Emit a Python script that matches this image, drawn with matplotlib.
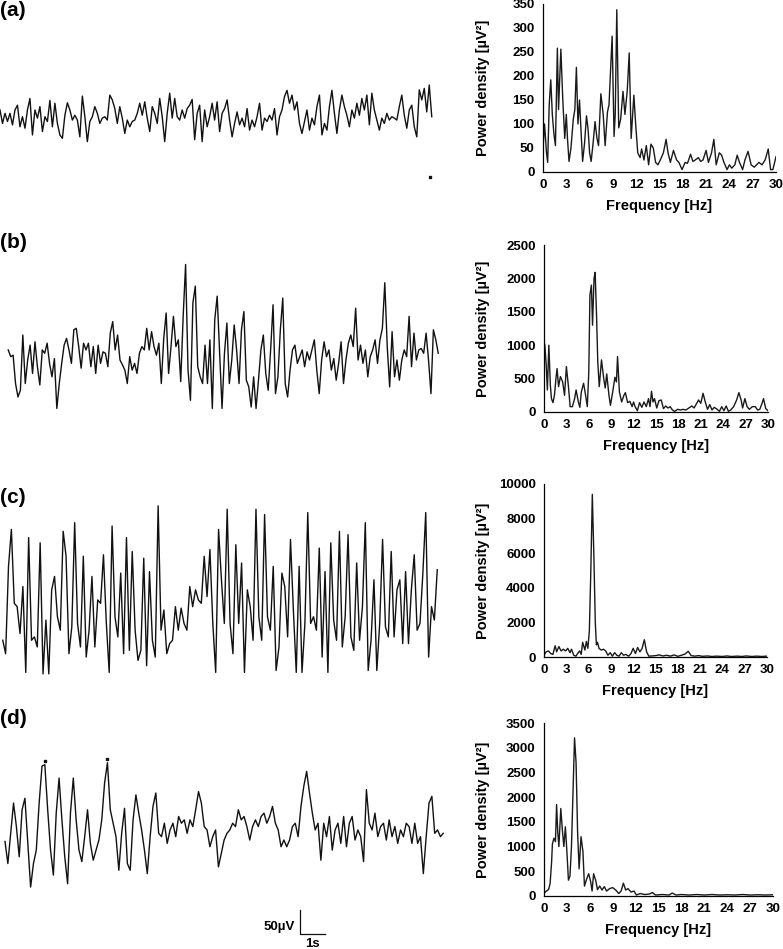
import numpy as np
import matplotlib
matplotlib.use("Agg")
import matplotlib.pyplot as plt

# EEG traces, µV, evenly sampled along each recording
trace_a = [14, -14, 7, -10, 7, -17, 14, 24, -21, 0,
           -24, 14, 38, -38, 14, -3, 21, -31, 0, -10,
           34, -21, 28, -14, -38, -45, 3, 29, 14, -7,
           3, -7, -42, 43, 0, -52, -10, 0, 21, 7,
           -14, -3, 0, -7, 45, 35, 17, -14, 21, -3,
           -35, -7, -21, -10, -7, 7, 28, 3, 31, -3,
           -31, 21, 7, -14, 38, 0, -52, 7, 49, -3,
           38, 0, -7, 14, -3, 17, 24, 36, -48, 7,
           24, -52, 14, -21, 0, 28, -7, 31, -31, 7,
           17, 35, -7, -42, -14, 10, -17, -3, -21, 17,
           -28, -7, -21, 0, 28, -28, -3, -10, 3, -7,
           17, -38, 0, 14, 42, 55, 28, 45, 14, 31,
           -14, -35, -10, 14, -28, -3, -17, 21, 45, -38,
           -14, -28, 21, 55, 7, -35, 14, 45, 21, 3,
           -21, 14, -3, 28, 3, 38, 14, 45, -17, 49,
           14, -7, -28, -3, -14, 7, -7, 0, -3, -7,
           21, 45, 3, -24, 14, 24, -21, -42, 56, 35,
           59, 10, 66, 0]

trace_b = [21, 7, 10, -49, -77, -63, 52, -49, 0, 31,
           -28, 38, -14, -52, 21, 14, 35, -7, -35, 3,
           -101, -49, -7, 31, 45, 21, -7, 63, 66, 28,
           -17, 35, 21, 35, -14, 28, -28, 31, -7, 17,
           14, -14, 56, 80, 21, 52, 0, -10, -21, -49,
           7, -21, -7, -28, 14, 28, 21, 66, 21, 59,
           28, 10, 35, -49, 45, 98, -28, 28, 91, 28,
           42, -45, 91, 199, -21, -84, 119, 154, -14, -35,
           -49, 31, -49, 42, -101, 84, 133, 14, -101, 14,
           77, -49, 0, 73, 21, -49, 63, 101, -42, -56,
           -98, -35, -101, -42, 21, 52, -28, -63, 21, 115,
           -70, -35, 63, 129, -49, -77, -21, 21, 31, -7,
           7, 21, -14, 17, 0, 21, 42, -21, -70, 0,
           38, 7, 21, -21, 3, -42, -7, 38, -49, 0,
           35, 52, 28, 108, 0, 31, -7, 21, -35, 7,
           21, 42, -7, 42, 66, 161, 28, -56, 59, -35,
           0, -42, 0, 21, 7, 91, -14, 56, 0, 21,
           24, 14, 56, 0, -70, 63, 42, 14]

trace_c = [-77, -105, 77, 154, 0, -7, -63, 35, -144, 137,
           -77, -70, -91, 126, -147, -35, -147, 28, 56, -28,
           -56, 150, 98, -105, -49, 168, -42, -91, 98, -112,
           -56, 56, -91, 7, 0, 101, -42, -144, 161, -28,
           -70, 63, -105, 137, -98, 108, -56, -119, -98, 94,
           -130, 66, -77, -112, 203, -56, -14, -105, -84, -77,
           -7, -56, -10, -42, -56, 35, -7, 28, 7, 0,
           98, 14, 112, -42, -144, 154, 49, -42, 196, -42,
           -105, 122, -42, 84, -144, 28, -7, -77, 196, -28,
           -77, 185, -28, -56, 77, -140, -91, 63, 35, -70,
           133, -14, -144, 77, -144, -42, 189, -42, -28, -56,
           115, -112, 66, -144, 126, -35, -77, 150, -91, -28,
           143, -70, -98, 84, -77, -7, 168, -140, -77, 49,
           -140, -42, 133, -49, -70, 108, -70, 28, 49, -84,
           66, -84, 28, 101, -56, -42, 63, 189, -112, -7,
           -35, 70]

trace_d = [-17, -63, 0, 63, 14, -49, 49, 73, -21, -112,
           -63, -35, 63, 140, 143, 49, -35, -87, 42, 115,
           28, -49, -105, 42, 115, 28, -35, -59, -7, 49,
           -21, -56, -35, -14, 28, 105, 147, 49, 21, -7,
           -77, 0, 52, -63, -77, 28, 80, 42, 7, -35,
           -84, -7, 56, 84, 0, -7, 21, -21, 7, 21,
           -7, 35, 21, 28, 0, 28, 14, 49, 87, 63,
           14, 7, -28, -7, 7, -70, -42, -14, 0, 7,
           21, 14, 49, 28, 35, 14, -14, 14, 28, 14,
           35, 42, 21, 35, 56, 21, 7, -28, -14, -28,
           -14, 14, 21, -7, 56, 98, 129, 84, 42, 7,
           21, -56, 21, -7, 35, -35, 7, 21, -21, 35,
           -28, 21, 35, -14, 7, -7, -59, 91, 21, 7,
           42, -7, 14, 21, -14, 28, -7, 14, -21, 7,
           -7, 21, 14, -21, 21, -21, -7, -84, -7, 63,
           77, 0, 7, -7, 0]

# start / end time of each trace (s)
trace_start = [0.0, 0.33, 0.11, 0.2]
trace_end = [17.27, 17.53, 17.49, 17.73]

# stray dots in the scanned traces (t in s, µV)
dots_a_t, dots_a_v = [17.2], [-125]
dots_d_t, dots_d_v = [1.8, 4.3], [150, 154]

# power spectra
spec_a_hz = [0.0, 0.2, 0.45, 0.6, 0.8, 1.0, 1.2, 1.4, 1.6, 1.85,
             2.0, 2.3, 2.55, 2.8, 3.0, 3.15, 3.35, 3.6, 3.9, 4.1,
             4.3, 4.5, 4.7, 4.9, 5.1, 5.35, 5.6, 5.8, 6.0, 6.2,
             6.45, 6.7, 6.95, 7.15, 7.45, 7.75, 8.0, 8.3, 8.5, 8.75,
             8.9, 9.15, 9.3, 9.5, 9.75, 10.0, 10.3, 10.55, 10.85, 11.1,
             11.35, 11.7, 11.95, 12.2, 12.5, 12.7, 13.0, 13.3, 13.6, 13.9,
             14.2, 14.5, 14.8, 15.1, 15.5, 15.85, 16.1, 16.4, 16.8, 17.2,
             17.5, 17.9, 18.3, 18.6, 19.0, 19.3, 19.6, 20.0, 20.3, 20.6,
             21.0, 21.3, 21.7, 22.0, 22.3, 22.7, 23.0, 23.3, 23.7, 24.0,
             24.3, 24.7, 25.0, 25.3, 25.7, 26.0, 26.4, 26.8, 27.2, 27.5,
             27.8, 28.2, 28.6, 29.0, 29.3, 29.6, 30.0]
spec_a_pow = [50, 100, 40, 20, 140, 192, 120, 80, 55, 258,
              130, 256, 150, 70, 120, 70, 22, 50, 110, 130,
              218, 100, 150, 85, 22, 60, 117, 90, 40, 22,
              60, 105, 70, 55, 163, 120, 55, 125, 140, 230,
              283, 74, 120, 338, 92, 110, 168, 120, 170, 248,
              70, 160, 95, 40, 30, 48, 25, 55, 15, 58,
              50, 20, 15, 25, 40, 68, 40, 20, 45, 25,
              20, 5, 20, 18, 37, 22, 25, 30, 22, 25,
              45, 20, 40, 68, 15, 40, 35, 20, 5, 15,
              8, 15, 35, 20, 5, 25, 43, 15, 10, 15,
              20, 15, 25, 48, 5, 5, 32]

spec_b_hz = [0.0, 0.1, 0.3, 0.45, 0.65, 0.85, 1.0, 1.2, 1.4, 1.6,
             1.75, 1.95, 2.2, 2.5, 2.75, 3.0, 3.3, 3.5, 3.8, 4.1,
             4.3, 4.6, 4.8, 5.0, 5.3, 5.5, 5.8, 6.0, 6.15, 6.35,
             6.5, 6.7, 6.85, 7.05, 7.2, 7.4, 7.7, 8.0, 8.2, 8.4,
             8.7, 8.9, 9.2, 9.5, 9.7, 9.85, 10.1, 10.4, 10.7, 10.9,
             11.2, 11.5, 11.8, 12.0, 12.2, 12.5, 12.8, 13.1, 13.4, 13.7,
             14.0, 14.2, 14.4, 14.6, 14.8, 15.1, 15.4, 15.7, 16.0, 16.3,
             16.6, 16.9, 17.2, 17.5, 17.9, 18.3, 18.6, 19.0, 19.4, 19.8,
             20.1, 20.4, 20.7, 21.0, 21.3, 21.6, 21.9, 22.2, 22.5, 22.8,
             23.2, 23.5, 23.8, 24.1, 24.4, 24.7, 25.0, 25.4, 25.8, 26.1,
             26.4, 26.6, 26.9, 27.2, 27.5, 27.9, 28.3, 28.6, 28.9, 29.2,
             29.4, 29.7, 30.0]
spec_b_pow = [600, 1020, 700, 330, 1000, 400, 200, 140, 250, 500,
              650, 380, 530, 450, 250, 680, 350, 80, 80, 200,
              330, 150, 70, 300, 430, 300, 80, 600, 1750, 1900,
              1300, 2000, 2090, 1400, 750, 380, 780, 500, 360, 570,
              250, 100, 300, 520, 450, 830, 300, 150, 250, 290,
              140, 160, 80, 150, 80, 20, 140, 70, 150, 80,
              200, 80, 310, 150, 200, 60, 170, 180, 50, 90,
              60, 80, 30, 10, 40, 30, 40, 30, 60, 90,
              60, 120, 180, 130, 280, 150, 40, 110, 30, 70,
              40, 10, 80, 20, 90, 10, 30, 80, 180, 290,
              180, 60, 200, 80, 40, 80, 80, 30, 40, 130,
              200, 50, 20]

spec_c_hz = [0.0, 0.3, 0.6, 0.9, 1.2, 1.5, 1.7, 2.0, 2.3, 2.6,
             2.9, 3.2, 3.5, 3.7, 4.0, 4.3, 4.6, 4.8, 5.0, 5.2,
             5.5, 5.7, 5.9, 6.1, 6.3, 6.5, 6.7, 6.9, 7.05, 7.2,
             7.4, 7.7, 8.0, 8.3, 8.6, 8.9, 9.2, 9.5, 9.8, 10.1,
             10.4, 10.7, 11.0, 11.4, 11.7, 12.0, 12.3, 12.6, 12.9, 13.2,
             13.5, 13.8, 14.1, 14.5, 15.0, 15.5, 16.0, 16.5, 17.0, 17.5,
             18.0, 18.5, 19.0, 19.4, 19.8, 20.3, 20.8, 21.3, 22.0, 22.6,
             23.2, 24.0, 24.6, 25.2, 26.0, 26.6, 27.2, 28.0, 28.6, 29.3,
             30.0]
spec_c_pow = [100, 300, 350, 200, 150, 650, 300, 600, 350, 450,
              350, 500, 250, 450, 100, 50, 250, 350, 150, 850,
              400, 900, 500, 1500, 5000, 9400, 6000, 2000, 700, 850,
              500, 400, 450, 350, 100, 250, 50, 250, 100, 50,
              250, 100, 150, 50, 200, 500, 200, 550, 300, 500,
              1000, 300, 50, 60, 80, 120, 60, 100, 50, 120,
              40, 100, 180, 330, 80, 50, 80, 40, 60, 30,
              50, 30, 60, 30, 50, 30, 60, 30, 50, 30,
              50]

spec_d_hz = [0.0, 0.3, 0.6, 0.8, 1.0, 1.1, 1.3, 1.5, 1.65, 1.8,
             1.95, 2.2, 2.4, 2.6, 2.8, 3.0, 3.2, 3.4, 3.6, 3.8,
             4.0, 4.2, 4.4, 4.6, 4.85, 5.1, 5.3, 5.6, 5.85, 6.1,
             6.3, 6.5, 6.8, 7.0, 7.3, 7.6, 7.9, 8.2, 8.6, 9.0,
             9.4, 9.8, 10.1, 10.4, 10.7, 11.0, 11.4, 11.8, 12.1, 12.6,
             13.2, 13.8, 14.2, 14.6, 15.5, 16.4, 16.8, 17.3, 18.0, 19.0,
             20.0, 21.0, 22.0, 23.0, 24.0, 25.0, 26.0, 27.0, 28.0, 29.0,
             30.0]
spec_d_pow = [50, 100, 130, 250, 700, 1050, 1170, 1100, 1850, 1300,
              1000, 1770, 1350, 1000, 1400, 900, 320, 400, 1000, 2100,
              3200, 2700, 1300, 550, 1200, 900, 200, 350, 450, 300,
              100, 450, 300, 130, 200, 120, 190, 100, 150, 170,
              120, 50, 100, 260, 120, 150, 80, 100, 20, 50,
              30, 40, 70, 20, 30, 20, 60, 20, 30, 20,
              30, 20, 30, 20, 25, 20, 30, 20, 25, 20,
              25]

spec_ymax = [350, 2500, 10000, 3500]
spec_ystep = [50, 500, 2000, 500]
freq_ticks = list(range(0, 31, 3))
panel_labels = ["(a)", "(b)", "(c)", "(d)"]

plt.rcParams['font.family'] = ['Liberation Sans', 'DejaVu Sans']
plt.rcParams['font.weight'] = 'bold'

W, H = 783, 949
fig = plt.figure(figsize=(W / 100, H / 100), dpi=100)


def box(x0, y0, x1, y1):
    # pixel box (top-left origin) -> figure axes
    return fig.add_axes([x0 / W, 1 - y1 / H, (x1 - x0) / W, (y1 - y0) / H])


UV_PER_PX = 50 / 24   # from the 50 µV scale bar
PX_PER_S = 25         # from the 1 s scale bar
HALF = 110

# left column: raw EEG
traces = [trace_a, trace_b, trace_c, trace_d]
centers = [116.7, 360, 603.3, 833.3]
trace_axes = []
for vals, t0, t1, yc in zip(traces, trace_start, trace_end, centers):
    ax = box(0, yc - HALF, 445, yc + HALF)
    t = np.linspace(t0, t1, len(vals))
    ax.plot(t, vals, color='#111111', lw=1.0)
    ax.set_xlim(0, 445 / PX_PER_S)
    ax.set_ylim(-HALF * UV_PER_PX, HALF * UV_PER_PX)
    ax.axis('off')
    trace_axes.append(ax)

trace_axes[0].plot(dots_a_t, dots_a_v, 's', ms=1.5, color='#111111')
trace_axes[3].plot(dots_d_t, dots_d_v, 's', ms=1.5, color='#111111')

# scale bar: 50 µV / 1 s
axd = trace_axes[3]
sb_t, sb_v = 12.0, -160
axd.plot([sb_t, sb_t, sb_t + 1], [sb_v, sb_v - 50, sb_v - 50],
         color='#111111', lw=0.9, clip_on=False)
axd.text(sb_t - 0.2, sb_v - 35, "50µV", ha='right', va='center',
         fontsize=9.5, fontweight='bold', clip_on=False)
axd.text(sb_t + 0.5, sb_v - 70, "1s", ha='center', va='center',
         fontsize=9.5, fontweight='bold', clip_on=False)

# right column: power spectra
spectra = [(spec_a_hz, spec_a_pow), (spec_b_hz, spec_b_pow),
           (spec_c_hz, spec_c_pow), (spec_d_hz, spec_d_pow)]
boxes = [(543, 4, 776, 172), (544, 245, 768, 412),
         (544, 484, 767, 657), (544, 723, 773, 896)]
for (hz, pw), bx, ymax, ystep in zip(spectra, boxes, spec_ymax, spec_ystep):
    ax = box(*bx)
    ax.plot(hz, pw, color='#1a1a1a', lw=1.0)
    ax.set_xlim(0, 30)
    ax.set_ylim(0, ymax)
    ax.set_xticks(freq_ticks)
    ax.set_yticks(np.arange(0, ymax + 1, ystep))
    ax.spines['top'].set_visible(False)
    ax.spines['right'].set_visible(False)
    for s in ('left', 'bottom'):
        ax.spines[s].set_linewidth(0.9)
    ax.tick_params(axis='both', length=0, labelsize=9.5)
    ax.tick_params(axis='y', pad=6)
    ax.tick_params(axis='x', pad=5)
    for lab in ax.get_xticklabels() + ax.get_yticklabels():
        lab.set_fontweight('bold')
    ax.set_xlabel("Frequency [Hz]", fontsize=10.5, fontweight='bold')
    ax.set_ylabel("Power density [µV²]", fontsize=10.5, fontweight='bold')
    w, h = bx[2] - bx[0], bx[3] - bx[1]
    ax.xaxis.set_label_coords(0.5, -34 / h)
    ax.xaxis.label.set_va('center')
    ax.yaxis.set_label_coords((483 - bx[0]) / w, 0.5)
    ax.yaxis.label.set_va('center')

# panel letters
for lab, y in zip(panel_labels, [11, 243, 497, 718]):
    fig.text(0.0, 1 - y / H, lab, fontsize=15, fontweight='bold',
             ha='left', va='center')

fig.savefig("out.png", dpi=100)
